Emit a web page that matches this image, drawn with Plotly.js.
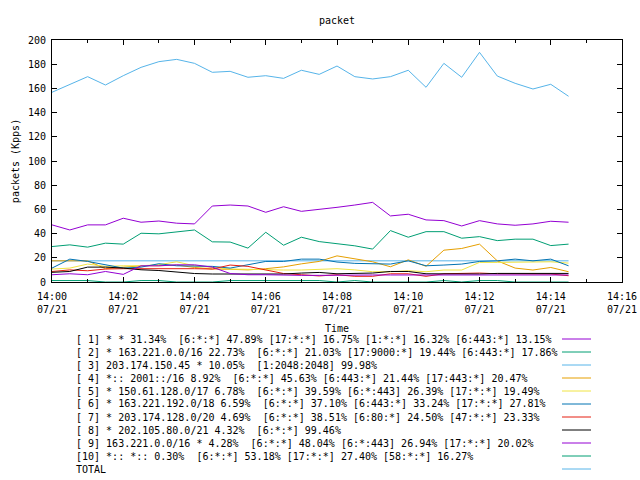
<!DOCTYPE html>
<html>
<head>
<meta charset="utf-8">
<script src="https://cdn.plot.ly/plotly-3.0.1.min.js"></script>
<style>html,body{margin:0;padding:0;background:#fff;}#chart{width:640px;height:480px;}</style>
</head>
<body>
<div id="chart"></div>
<script>
// ---- data ----
const times = [
  '2024-07-21 14:00:00','2024-07-21 14:00:30','2024-07-21 14:01:00','2024-07-21 14:01:30',
  '2024-07-21 14:02:00','2024-07-21 14:02:30','2024-07-21 14:03:00','2024-07-21 14:03:30',
  '2024-07-21 14:04:00','2024-07-21 14:04:30','2024-07-21 14:05:00','2024-07-21 14:05:30',
  '2024-07-21 14:06:00','2024-07-21 14:06:30','2024-07-21 14:07:00','2024-07-21 14:07:30',
  '2024-07-21 14:08:00','2024-07-21 14:08:30','2024-07-21 14:09:00','2024-07-21 14:09:30',
  '2024-07-21 14:10:00','2024-07-21 14:10:30','2024-07-21 14:11:00','2024-07-21 14:11:30',
  '2024-07-21 14:12:00','2024-07-21 14:12:30','2024-07-21 14:13:00','2024-07-21 14:13:30',
  '2024-07-21 14:14:00','2024-07-21 14:14:30'
];
const s1 = [47.2,43,47.2,47.2,52.7,49.4,50.4,48.6,48,62.8,63.6,62.8,57.6,62.2,58.4,59.8,61.7,63.6,65.8,54.6,56,51.3,50.7,46.3,50.7,48,46.9,48,50.2,49.4];
const s2 = [29.3,30.7,28.8,32.1,31.3,40.3,39.8,41.1,43,33.2,33,28,41.1,30.4,37,33.4,31.8,29.9,27.2,42.5,37,41.6,41.6,36.2,37.5,34.2,35.4,35.4,30.1,31.3];
const s3 = [17.5,17.5,17.5,17.5,17.5,17.5,17.5,17.5,17.5,17.5,17.5,17.5,17.5,17.5,17.5,17.5,17.5,17.5,17.5,17.5,17.5,17.5,17.5,17.5,17.5,17.5,17.5,17.5,17.5,17.5];
const s4 = [17.5,17.5,17.5,11,12.5,13.4,13.4,14,12,10.7,10.5,10,11,12.5,15,17,21.6,19,16.7,12.6,18.3,13,26.3,27.7,31.3,17.5,11.5,9.9,12,8.5];
const s5 = [10.7,11.5,14.8,12.9,13.4,13.4,14.3,16.7,13.4,12,10.7,10.5,9.9,9.9,9.9,10.5,11,10,8.5,8.5,9.3,8.5,9.9,9.9,16.2,16.2,16.2,16.7,16.7,15.6];
const s6 = [11.5,18.9,17,14.2,11.5,12.3,15.1,13.4,13.4,12.9,11.5,14.5,17,17,18.9,18.9,16.5,15.4,14.8,14.8,17.5,13.4,14,14.8,17,17.5,18.9,17.5,18.9,13.4];
const s7 = [8.7,10,9.3,10.7,11,11,11.5,11.5,11,10.7,14,12.9,9.9,7,6,5,6,4.7,4.7,6.8,6.8,4.7,6.8,7.4,7.4,6.8,6.8,6.6,6.6,5.2];
const s8 = [8,8.7,12.3,12.3,11.5,10.1,9.5,8.2,7,6.6,6.6,6.6,6.6,6.6,7.4,7.9,6.8,7.4,7.4,8.7,8.7,6.8,6.6,6.6,6.6,7.1,7.1,6.6,7.1,7.1];
const s9 = [6,6.8,6,8.7,6.3,13.4,13.4,14.2,14.2,12.3,7,6,6,5.5,5.5,5.5,5.8,5.8,5.8,5.8,5.8,5.8,5.8,5.8,5.8,5.8,5.8,5.8,5.8,5.8];
const s10 = [1.2,1.2,1.2,0,0,1.2,1.2,0,0,0,1.2,1.2,1.2,1.2,1.2,1.2,0,1.2,0,0,0,0,1.2,0,1.2,1.2,0,0,0,0];
const total = [156.8,163.4,169.7,162.8,170.5,177.4,182.1,184,180.7,173.3,174.1,169.2,170.5,168.3,175,171.6,178.5,169.7,167.8,169.7,175,160.9,180.7,169.2,189.8,170.2,164.2,159.5,163.4,153.5];

const labels = [
  '[ 1] * * 31.34%  [6:*:*] 47.89% [17:*:*] 16.75% [1:*:*] 16.32% [6:443:*] 13.15%',
  '[ 2] * 163.221.0.0/16 22.73%  [6:*:*] 21.03% [17:9000:*] 19.44% [6:443:*] 17.86%',
  '[ 3] 203.174.150.45 * 10.05%  [1:2048:2048] 99.98%',
  '[ 4] *:: 2001::/16 8.92%  [6:*:*] 45.63% [6:443:*] 21.44% [17:443:*] 20.47%',
  '[ 5] * 150.61.128.0/17 6.78%  [6:*:*] 39.59% [6:*:443] 26.39% [17:*:*] 19.49%',
  '[ 6] * 163.221.192.0/18 6.59%  [6:*:*] 37.10% [6:443:*] 33.24% [17:*:*] 27.81%',
  '[ 7] * 203.174.128.0/20 4.69%  [6:*:*] 38.51% [6:80:*] 24.50% [47:*:*] 23.33%',
  '[ 8] * 202.105.80.0/21 4.32%  [6:*:*] 99.46%',
  '[ 9] 163.221.0.0/16 * 4.28%  [6:*:*] 48.04% [6:*:443] 26.94% [17:*:*] 20.02%',
  '[10] *:: *:: 0.30%  [6:*:*] 53.18% [17:*:*] 27.40% [58:*:*] 16.27%',
  'TOTAL'
];
const xTickVals = ['2024-07-21 14:00:00','2024-07-21 14:02:00','2024-07-21 14:04:00','2024-07-21 14:06:00','2024-07-21 14:08:00','2024-07-21 14:10:00','2024-07-21 14:12:00','2024-07-21 14:14:00','2024-07-21 14:16:00'];
const xTickText = ['14:00<br>07/21','14:02<br>07/21','14:04<br>07/21','14:06<br>07/21','14:08<br>07/21','14:10<br>07/21','14:12<br>07/21','14:14<br>07/21','14:16<br>07/21'];
const yTickVals = [0,20,40,60,80,100,120,140,160,180,200];
const yTickText = ['0','20','40','60','80','100','120','140','160','180','200'];

// ---- styling ----
const colors = ['#9400D3','#009E73','#56B4E9','#E69F00','#F0E442','#0072B2','#E51E10','#000000','#9400D3','#009E73','#56B4E9'];
const series = [s1,s2,s3,s4,s5,s6,s7,s8,s9,s10,total];
const FONT = 'DejaVu Sans Mono, Liberation Mono, monospace';
const W = 640, H = 480;
const mL = 52, mR = 18, mT = 40, mB = 198;
const pw = W - mL - mR, ph = H - mT - mB;
const px = x => (x - mL) / pw;
const py = y => (H - mB - y) / ph;

const traces = series.map((s, i) => ({
  x: times, y: s, type: 'scatter', mode: 'lines',
  line: {color: colors[i], width: 1},
  name: labels[i], showlegend: false, hoverinfo: 'skip'
}));

const annotations = labels.map((t, k) => ({
  xref: 'paper', yref: 'paper', x: px(75), y: py(339 + 13 * k),
  xanchor: 'left', yanchor: 'middle', align: 'left', showarrow: false,
  borderpad: 0,
  text: t.replace(/  /g, ' \u00a0'),
  font: {family: FONT, size: 10, color: '#000'}
}));
const shapes = labels.map((t, k) => ({
  type: 'line', xref: 'paper', yref: 'paper',
  x0: px(562), x1: px(591), y0: py(339 + 13 * k), y1: py(339 + 13 * k),
  line: {color: colors[k], width: 1}
}));

const layout = {
  width: W, height: H,
  margin: {l: mL, r: mR, t: mT, b: mB, pad: 0},
  paper_bgcolor: '#fff', plot_bgcolor: '#fff',
  font: {family: FONT, size: 10, color: '#000'},
  title: {text: 'packet', xref: 'paper', x: 0.5, xanchor: 'center', yref: 'container', y: 1 - 20 / H, yanchor: 'middle', font: {family: FONT, size: 10, color: '#000'}},
  showlegend: false,
  xaxis: {
    type: 'date', range: ['2024-07-21 14:00:00', '2024-07-21 14:16:00'],
    tickmode: 'array', tickvals: xTickVals, ticktext: xTickText,
    ticks: 'inside', ticklen: 5, tickcolor: '#000', tickwidth: 1,
    ticklabelstandoff: 5,
    minor: {tickmode: 'linear', tick0: '2024-07-21 14:00:00', dtick: 60000, ticks: 'inside', ticklen: 3, tickcolor: '#000', showgrid: false},
    showline: true, linecolor: '#000', linewidth: 1, mirror: 'allticks',
    showgrid: false, zeroline: false,
    tickfont: {family: FONT, size: 10, color: '#000'},
    title: {text: 'Time', standoff: 10, font: {family: FONT, size: 10, color: '#000'}}
  },
  yaxis: {
    range: [0, 200], tickmode: 'array', tickvals: yTickVals, ticktext: yTickText,
    ticks: 'inside', ticklen: 5, tickcolor: '#000', tickwidth: 1,
    ticklabelstandoff: 3,
    showline: true, linecolor: '#000', linewidth: 1, mirror: 'allticks',
    showgrid: false, zeroline: false,
    tickfont: {family: FONT, size: 10, color: '#000'},
    title: {text: 'packets (Kpps)', standoff: 6, font: {family: FONT, size: 10, color: '#000'}}
  },
  annotations: annotations,
  shapes: shapes
};

Plotly.newPlot('chart', traces, layout, {staticPlot: true, displayModeBar: false});
</script>
</body>
</html>
